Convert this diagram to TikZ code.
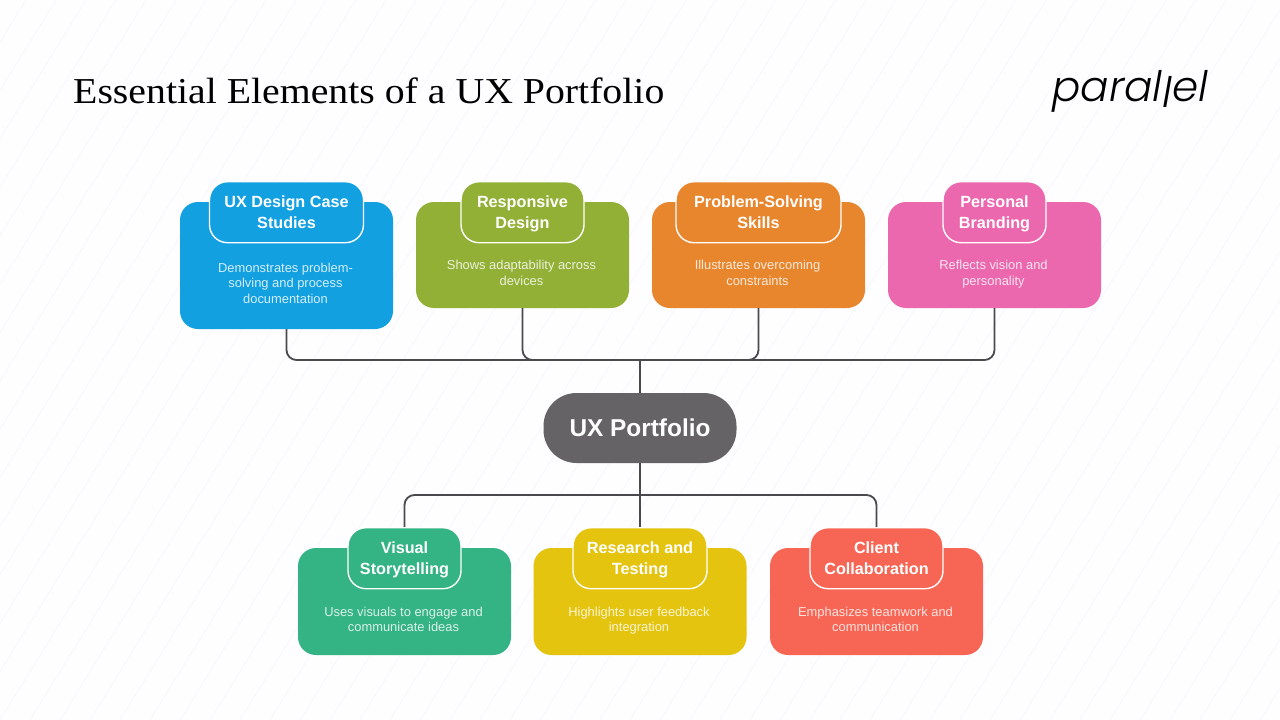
\documentclass[tikz,border=0pt]{standalone}
\usepackage{fontspec}
\setmainfont{Liberation Sans}
\newfontfamily\titlefont[FakeStretch=1.09]{Liberation Serif}
\newfontfamily\logofont[ItalicFont={Poppins Light Italic}]{Poppins}
\definecolor{pagebg}{HTML}{FEFDFF}
\definecolor{stripe}{HTML}{F8F7FB}
\definecolor{linkgrey}{HTML}{4A494E}
\definecolor{hubgrey}{HTML}{656366}
\definecolor{cardblue}{HTML}{12A0E1}
\definecolor{cardolive}{HTML}{93B036}
\definecolor{cardorange}{HTML}{E8862D}
\definecolor{cardpink}{HTML}{EB68AE}
\definecolor{cardgreen}{HTML}{34B384}
\definecolor{cardyellow}{HTML}{E4C40E}
\definecolor{cardred}{HTML}{F76655}
\tikzset{
  cardbody/.style={rounded corners=18pt, minimum width=213pt, inner sep=0pt},
  cardhead/.style={rounded corners=18pt, draw=white, line width=1.4pt, minimum height=61pt,
    inner sep=0pt, text=white, align=center, text depth=0pt, font=\fontsize{16.2}{21}\selectfont\bfseries},
  cardtext/.style={align=center, inner sep=0pt, text depth=0pt, font=\fontsize{12.9}{15.6}\selectfont},
  link/.style={draw=linkgrey, line width=1.8pt, rounded corners=10pt},
}
\begin{document}
\begin{tikzpicture}[x=1pt,y=-1pt]
    \fill[pagebg] (0,0) rectangle (1280,720);
    \useasboundingbox (0,0) rectangle (1280,720);
    % faint stripes behind everything
    \foreach \s in {-450,-420,...,1290}
      \draw[stripe, line width=1pt] (\s,720) -- ({\s+446},0);
    \node[anchor=west, inner sep=0pt, font=\titlefont\fontsize{36.5}{40}\selectfont] (title) at (73,91)
      {Essential Elements of a UX Portfolio};
    \node[anchor=east, inner sep=0pt, font=\logofont\itshape\fontsize{42}{44}\selectfont] (logo) at (1208,91)
      {paral\raisebox{-6pt}{l}el};
    \node[rounded corners=33pt, fill=hubgrey, minimum width=193pt, minimum height=70pt, inner sep=0pt,
      text=white, font=\fontsize{24.4}{28}\selectfont\bfseries] (hub) at (640,428) {UX Portfolio};
    \coordinate (topbus) at (640,360);
    \coordinate (lowbus) at (640,495);
    % name/body centre/body height/head width/colour/title/text, then text y
    \foreach \card/\cx/\cy/\hgt/\hw/\col/\head/\body/\ty in {
      cases/286.5/265.5/127/154/cardblue/{UX Design Case\\Studies}/{Demonstrates problem-\\solving and process\\documentation}/283,
      responsive/522.5/255/106/123/cardolive/{Responsive\\Design}/{Shows adaptability across\\devices}/273,
      solving/758.5/255/106/165/cardorange/{Problem-Solving\\Skills}/{Illustrates overcoming\\constraints}/273,
      branding/994.5/255/106/103/cardpink/{Personal\\Branding}/{Reflects vision and\\personality}/273,
      visual/404.5/601.5/107/113/cardgreen/{Visual\\Storytelling}/{Uses visuals to engage and\\communicate ideas}/619.5,
      research/640/601.5/107/134/cardyellow/{Research and\\Testing}/{Highlights user feedback\\integration}/619.5,
      client/876.5/601.5/107/133/cardred/{Client\\Collaboration}/{Emphasizes teamwork and\\communication}/619.5}
    {
      \node[cardbody, fill=\col, minimum height=\hgt pt] (\card) at (\cx,\cy) {};
      \node[cardhead, fill=\col, minimum width=\hw pt, anchor=north] (\card-head)
        at (\cx,{\cy-\hgt/2-21}) {\head};
      \node[cardtext, text=white!82!\col] (\card-text) at ({\cx-1},\ty) {\body};
    }
    \draw[link] (cases.south) |- (topbus);
    \draw[link] (responsive.south) |- (topbus);
    \draw[link] (solving.south) |- (topbus);
    \draw[link] (branding.south) |- (topbus);
    \draw[link] (topbus) -- (hub.north);
    \draw[link] (hub.south) -- (research-head.north);
    \draw[link] (visual-head.north) |- (lowbus);
    \draw[link] (client-head.north) |- (lowbus);
\end{tikzpicture}
\end{document}
